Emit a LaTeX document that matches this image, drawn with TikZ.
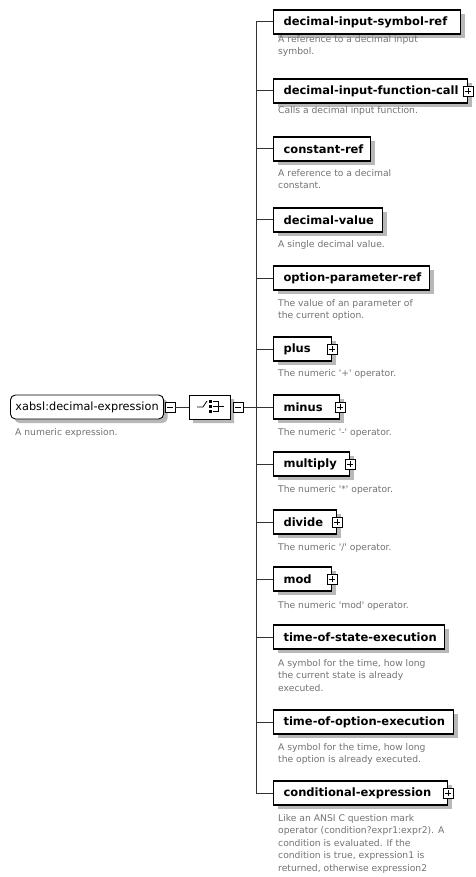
\documentclass[tikz,border=0pt]{standalone}
\usepackage{fontspec}
\setmainfont{DejaVu Sans}
\usetikzlibrary{shapes.misc,shadows}

\tikzset{
  shade/.style={drop shadow={shadow xshift=4pt, shadow yshift=-4pt, fill=black!28, opacity=1}},
  elem/.style={draw, line width=1.1pt, fill=white, shade, anchor=west,
    minimum height=24pt, inner xsep=0pt,
    font=\fontsize{11.5}{14}\selectfont\bfseries,
    execute at begin node={\hbox to #1\bgroup\kern10pt},
    execute at end node={\hss\egroup}},
  rootelem/.style={draw, line width=.9pt, fill=white, shade, rounded corners=5pt,
    anchor=west, minimum height=24pt, inner xsep=5pt,
    font=\fontsize{11.3}{14}\selectfont},
  choicebox/.style={chamfered rectangle, chamfered rectangle xsep=5pt, draw,
    line width=.9pt, fill=white, shade, minimum width=41pt, minimum height=24pt, inner sep=0pt},
  doc/.style={anchor=north west, inner sep=0pt, align=left, text=black!55,
    font=\fontsize{9.2}{12.5}\selectfont},
  expander/.style={draw, line width=.7pt, fill=white, minimum size=10pt, inner sep=0pt},
  minusbox/.style={expander, path picture={
    \draw[line width=.7pt] ([xshift=2pt]path picture bounding box.west) -- ([xshift=-2pt]path picture bounding box.east);}},
  plusbox/.style={expander, path picture={
    \draw[line width=.7pt] ([xshift=2pt]path picture bounding box.west) -- ([xshift=-2pt]path picture bounding box.east)
      ([yshift=-2pt]path picture bounding box.north) -- ([yshift=2pt]path picture bounding box.south);}},
  wire/.style={line width=1pt, black!80},
  icon/.style={line width=.8pt},
}

\begin{document}
\begin{tikzpicture}[x=1pt,y=-1pt]
  \path[use as bounding box, fill=white] (0,0) rectangle (475,877);

  % the root element and its choice group
  \node[rootelem] (root) at (10,407) {xabsl:decimal-expression};
  \node[minusbox] (root-x) at ([xshift=6pt]root.east) {};
  \node[doc] (root-doc) at (15,428) {A numeric expression.};

  \node[choicebox] (choice) at (209.5,407) {};
  \node[minusbox] (choice-x) at ([xshift=8pt]choice.east) {};
  \draw[icon] (197,407) -- (203,407) -- (207,401);
  \fill (209,400) rectangle (212,403);
  \fill (209,405) rectangle (212,408);
  \fill (209,410) rectangle (212,413);
  \draw[icon] (213,401.5) -- (218,401.5) -- (218,411.5) -- (213,411.5)
    (213,406.5) -- (224,406.5);

  \coordinate (fork) at (256,407);
  \draw[wire] (root-x) -- (choice);
  \draw[wire] (choice-x) -- (fork);

  % the choices
  \node[elem=187pt] (symref)     at (273,22)  {decimal-input-symbol-ref};
  \node[elem=194pt] (funccall)   at (273,91)  {decimal-input-function-call};
  \node[elem=97pt]  (constref)   at (273,149) {constant-ref};
  \node[elem=109pt] (decvalue)   at (273,220) {decimal-value};
  \node[elem=156pt] (optparam)   at (273,278) {option-parameter-ref};
  \node[elem=58pt]  (plus)       at (273,349) {plus};
  \node[elem=66pt]  (minus)      at (273,407) {minus};
  \node[elem=76pt]  (multiply)   at (273,464) {multiply};
  \node[elem=63pt]  (divide)     at (273,522) {divide};
  \node[elem=58pt]  (mod)        at (273,579) {mod};
  \node[elem=171pt] (statetime)  at (273,637) {time-of-state-execution};
  \node[elem=180pt] (optiontime) at (273,722) {time-of-option-execution};
  \node[elem=174pt] (condexpr)   at (273,793) {conditional-expression};

  \foreach \n in {funccall,plus,minus,multiply,divide,mod,condexpr}
    \node[plusbox] (\n-x) at (\n.east) {};

  \foreach \n in {symref,funccall,constref,decvalue,optparam,plus,minus,
                  multiply,divide,mod,statetime,optiontime,condexpr}
    \draw[wire] (\n.west) -| (fork);

  % annotations
  \node[doc] (symref-doc)     at (278,35)  {A reference to a decimal input\\symbol.};
  \node[doc] (funccall-doc)   at (278,106) {Calls a decimal input function.};
  \node[doc] (constref-doc)   at (278,169) {A reference to a decimal\\constant.};
  \node[doc] (decvalue-doc)   at (278,240) {A single decimal value.};
  \node[doc] (optparam-doc)   at (278,299) {The value of an parameter of\\the current option.};
  \node[doc] (plus-doc)       at (278,369) {The numeric \textquotesingle+\textquotesingle\ operator.};
  \node[doc] (minus-doc)      at (278,428) {The numeric \textquotesingle-\textquotesingle\ operator.};
  \node[doc] (multiply-doc)   at (278,485) {The numeric \textquotesingle*\textquotesingle\ operator.};
  \node[doc] (divide-doc)     at (278,543) {The numeric \textquotesingle/\textquotesingle\ operator.};
  \node[doc] (mod-doc)        at (278,601) {The numeric \textquotesingle mod\textquotesingle\ operator.};
  \node[doc] (statetime-doc)  at (278,659) {A symbol for the time, how long\\the current state is already\\executed.};
  \node[doc] (optiontime-doc) at (278,743) {A symbol for the time, how long\\the option is already executed.};
  \node[doc] (condexpr-doc)   at (278,814) {Like an ANSI C question mark\\operator (condition?expr1:expr2). A\\condition is evaluated. If the\\condition is true, expression1 is\\returned, otherwise expression2};
\end{tikzpicture}
\end{document}
